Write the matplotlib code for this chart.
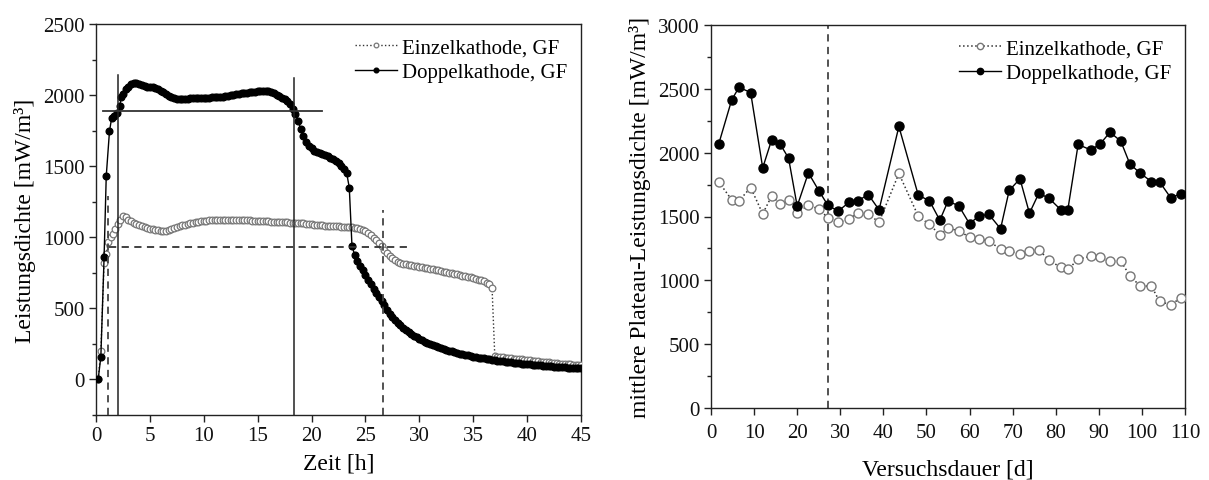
import numpy as np
import matplotlib
matplotlib.use("Agg")
import matplotlib.pyplot as plt

plt.rcParams['font.family'] = ['Liberation Serif', 'DejaVu Serif']
plt.rcParams['mathtext.fontset'] = 'stix'

# ---------------- Left chart data (Zeit [h]) ----------------
# early (sparse) points
t_early_doppel = [0.2, 0.45, 0.75, 0.95, 1.25, 1.45, 1.7, 1.95, 2.2, 2.35]
v_early_doppel = [0, 160, 860, 1430, 1745, 1838, 1855, 1875, 1920, 1990]
t_early_einzel = [0.2, 0.45, 0.75, 0.95, 1.1, 1.35, 1.6, 1.8, 2.05, 2.25]
v_early_einzel = [0, 200, 820, 880, 965, 1000, 1020, 1055, 1090, 1125]

# dense part, sampled every 0.25 h starting at 2.5 h
dense_start = 2.5
dense_step = 0.25
v_dense_doppel = [
    2010, 2040, 2060, 2075, 2088, 2085, 2078, 2070, 2062, 2060, 2057, 2054, 2048, 2040, 2030, 2020, 2008, 1995, 1987, 1980,
    1975, 1972, 1972, 1974, 1976, 1978, 1979, 1980, 1980, 1981, 1982, 1982, 1983, 1984, 1985, 1986, 1988, 1990, 1992, 1995,
    1998, 2002, 2006, 2009, 2012, 2015, 2018, 2020, 2022, 2024, 2026, 2028, 2030, 2031, 2028, 2022, 2012, 2004, 1995, 1983,
    1970, 1955, 1935, 1905, 1870, 1820, 1760, 1710, 1670, 1645, 1625, 1610, 1600, 1592, 1585, 1577, 1570, 1560, 1548, 1535,
    1520, 1502, 1482, 1455, 1350, 940, 875, 830, 800, 768, 735, 700, 668, 637, 608, 580, 552, 525, 490, 458,
    440, 418, 398, 380, 362, 348, 333, 320, 308, 297, 286, 276, 266, 257, 249, 241, 234, 227, 220, 214,
    208, 202, 197, 192, 187, 182, 177, 173, 169, 165, 161, 157, 154, 151, 148, 145, 142, 139, 136, 133,
    130, 127, 125, 122, 120, 118, 116, 114, 112, 110, 108, 106, 104, 102, 100, 99, 97, 95, 94, 92,
    91, 89, 88, 86, 85, 84, 82, 81, 80, 79, 78,
]
v_dense_einzel = [
    1152, 1140, 1125, 1112, 1102, 1094, 1086, 1079, 1072, 1066, 1060, 1056, 1052, 1049, 1046, 1045, 1047, 1051, 1057, 1064,
    1070, 1077, 1083, 1089, 1094, 1099, 1103, 1107, 1110, 1113, 1115, 1117, 1118, 1119, 1120, 1121, 1121, 1122, 1122, 1122,
    1122, 1122, 1122, 1121, 1121, 1120, 1119, 1118, 1117, 1116, 1115, 1114, 1113, 1112, 1111, 1110, 1109, 1108, 1107, 1106,
    1105, 1104, 1103, 1102, 1101, 1100, 1099, 1097, 1095, 1093, 1091, 1089, 1087, 1085, 1084, 1082, 1081, 1079, 1078, 1077,
    1076, 1075, 1074, 1073, 1072, 1070, 1068, 1065, 1061, 1054, 1045, 1032, 1015, 998, 978, 958, 936, 912, 890, 870,
    852, 838, 828, 820, 815, 810, 806, 802, 799, 796, 793, 790, 787, 783, 779, 775, 771, 767, 763, 759,
    755, 751, 747, 743, 739, 735, 731, 727, 723, 719, 714, 709, 703, 697, 690, 681, 668, 640, 165, 160,
    157, 155, 153, 151, 149, 147, 145, 143, 141, 139, 136, 134, 132, 130, 128, 126, 124, 122, 120, 118,
    116, 114, 112, 111, 109, 108, 106, 105, 104, 103, 102,
]

# plateau marker lines (left chart)
doppel_start, doppel_end, doppel_level = 2.05, 18.4, 1890
einzel_start, einzel_end, einzel_level = 1.1, 26.6, 930

# ---------------- Right chart data (Versuchsdauer [d]) ----------------
days = [1.8, 4.8, 6.5, 9.2, 12.0, 14.1, 16.1, 18.0, 20.0, 22.6, 25.1, 27.1, 29.5, 32.0, 34.1,
        36.5, 39.0, 43.6, 48.1, 50.7, 53.1, 55.0, 57.5, 60.0, 62.2, 64.5, 67.2, 69.2, 71.7, 73.9,
        76.1, 78.5, 81.2, 82.8, 85.2, 88.1, 90.2, 92.6, 95.1, 97.2, 99.6, 102.2, 104.1, 106.7, 109.1]
plateau_doppel = [2069, 2413, 2512, 2471, 1881, 2103, 2064, 1957, 1581, 1842, 1698, 1589, 1542, 1610, 1623,
                  1672, 1552, 2205, 1667, 1623, 1471, 1620, 1584, 1443, 1505, 1516, 1404, 1704, 1795, 1526,
                  1683, 1641, 1552, 1552, 2064, 2022, 2064, 2160, 2090, 1912, 1839, 1774, 1771, 1646, 1680]
plateau_einzel = [1771, 1631, 1623, 1727, 1521, 1662, 1597, 1633, 1526, 1589, 1558, 1490, 1456, 1477, 1529,
                  1518, 1456, 1837, 1503, 1438, 1357, 1409, 1388, 1338, 1323, 1307, 1244, 1229, 1208, 1231,
                  1239, 1156, 1101, 1085, 1164, 1190, 1179, 1151, 1151, 1036, 955, 955, 835, 809, 864]
change_day = 27.1

label_einzel = "Einzelkathode, GF"
label_doppel = "Doppelkathode, GF"

# ---------------- build series ----------------
t_doppel = np.concatenate([t_early_doppel, dense_start + dense_step * np.arange(len(v_dense_doppel))])
y_doppel = np.concatenate([v_early_doppel, v_dense_doppel])
t_einzel = np.concatenate([t_early_einzel, dense_start + dense_step * np.arange(len(v_dense_einzel))])
y_einzel = np.concatenate([v_early_einzel, v_dense_einzel])

fig = plt.figure(figsize=(12.09, 4.81), dpi=100)
W, H = 1209, 481
axL = fig.add_axes([96 / W, 1 - 416 / H, (581 - 96) / W, (416 - 25) / H])
axR = fig.add_axes([711 / W, 1 - 409 / H, (1185 - 711) / W, (409 - 26) / H])

spine_col = '#222222'
gray = '#777777'

# ---- left ----
axL.plot(t_einzel, y_einzel, linestyle=':', color='#333333', lw=1.0,
         marker='o', ms=4.8, mfc='white', mec=gray, mew=0.9, label=label_einzel, zorder=3)
axL.plot(t_doppel, y_doppel, linestyle='-', color='black', lw=1.0,
         marker='o', ms=4.8, mfc='black', mec='black', label=label_doppel, zorder=4)

# plateau guide lines
axL.plot([doppel_start, doppel_start], [-250, 2140], color='#222222', lw=1.1, zorder=5)
axL.plot([doppel_end, doppel_end], [-250, 2120], color='#222222', lw=1.1, zorder=5)
axL.plot([0.65, 21.0], [doppel_level, doppel_level], color='#333333', lw=1.3, zorder=5)
axL.plot([einzel_start, einzel_start], [-250, 1290], color='#444444', lw=1.3, ls=(0, (4, 3)), zorder=5)
axL.plot([einzel_end, einzel_end], [-250, 1195], color='#444444', lw=1.3, ls=(0, (4, 3)), zorder=5)
axL.plot([1.2, 28.9], [einzel_level, einzel_level], color='#333333', lw=1.3, ls=(0, (4, 3)), zorder=5)

axL.set_xlim(0, 45)
axL.set_ylim(-250, 2500)
axL.set_xticks(np.arange(0, 46, 5))
axL.set_yticks(np.arange(0, 2501, 500))
axL.set_yticks(np.arange(-250, 2501, 250), minor=True)
axL.set_xlabel("Zeit [h]", fontsize=17, labelpad=5)
axL.set_ylabel("Leistungsdichte [mW/m³]", fontsize=17, labelpad=5)

# ---- right ----
axR.plot(days, plateau_einzel, linestyle=':', color='#333333', lw=1.1,
         marker='o', ms=6.5, mfc='white', mec=gray, mew=1.0, label=label_einzel, zorder=3)
axR.plot(days, plateau_doppel, linestyle='-', color='black', lw=1.0,
         marker='o', ms=6.5, mfc='black', mec='black', label=label_doppel, zorder=4)
axR.axvline(change_day, color='#444444', lw=1.3, ls=(0, (4, 3)), zorder=2)

axR.set_xlim(0, 110)
axR.set_ylim(0, 3000)
axR.set_xticks(np.arange(0, 111, 10))
axR.set_yticks(np.arange(0, 3001, 500))
axR.set_yticks(np.arange(0, 3001, 250), minor=True)
axR.set_xlabel("Versuchsdauer [d]", fontsize=17, labelpad=12)
axR.set_ylabel("mittlere Plateau-Leistungsdichte [mW/m³]", fontsize=17, labelpad=5)

for ax in (axL, axR):
    for s in ax.spines.values():
        s.set_color(spine_col)
        s.set_linewidth(1.0)
    ax.tick_params(axis='both', which='major', direction='out', length=5, width=1.0,
                   labelsize=15, colors=spine_col, labelcolor='#111111', pad=3)
    ax.tick_params(axis='y', which='minor', direction='out', length=3, width=1.0, colors=spine_col)
    ax.tick_params(top=False, right=False)
    ax.legend(loc='upper right', frameon=False, fontsize=15, handlelength=2.0,
              handletextpad=0.25, borderaxespad=0.0, borderpad=0.65, labelspacing=0.25,
              markerscale=0.7)

axR.tick_params(axis='x', which='major', pad=6)

fig.savefig("out.png", dpi=100)
